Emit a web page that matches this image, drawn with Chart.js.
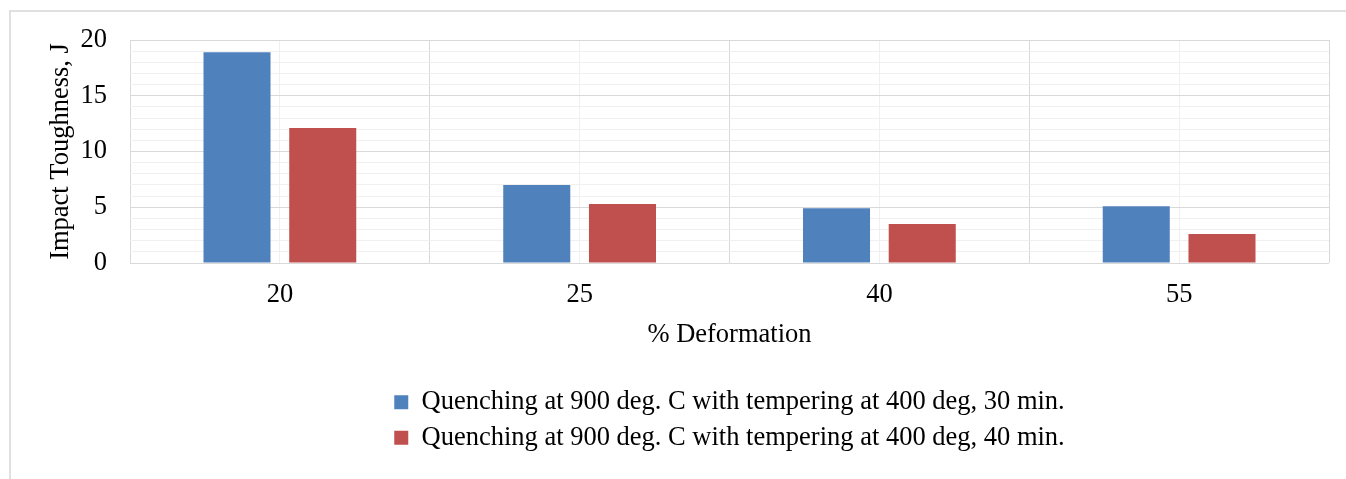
<!DOCTYPE html>
<html>
<head>
<meta charset="utf-8">
<title>Impact toughness vs deformation</title>
<script src="https://cdn.jsdelivr.net/npm/chart.js@4.4.1/dist/chart.umd.min.js"></script>
<style>
  html, body { margin: 0; padding: 0; background: #fff; overflow: hidden; }
  #frame {
    position: absolute; left: 9px; top: 10px; width: 1400px; height: 500px;
    border-left: 2px solid #e0e0e0; border-top: 2px solid #e0e0e0;
  }
  #myChart { position: absolute; left: 0; top: 0; }
</style>
</head>
<body>
<div id="frame"></div>
<canvas id="myChart" width="1346" height="479"></canvas>
<script>
// data
const deformation = ['20', '25', '40', '55'];
const temper30 = [18.9, 7.0, 4.9, 5.1];
const temper40 = [12.1, 5.3, 3.5, 2.6];
const seriesNames = [
  'Quenching at 900 deg. C with tempering at 400 deg, 30 min.',
  'Quenching at 900 deg. C with tempering at 400 deg, 40 min.'
];
const yLabelTicks = [0, 5, 10, 15, 20];

const blue = '#4F81BD';
const red = '#C0504D';
const majorGrid = '#d9d9d9';
const minorGrid = '#f0f0f0';

Chart.defaults.font.family = '"Liberation Serif", "Times New Roman", serif';
Chart.defaults.font.size = 26.5;
Chart.defaults.color = '#000';

const chartElement = document.getElementById('myChart');

const chart = new Chart(chartElement, {
  type: 'bar',
  data: {
    labels: deformation,
    datasets: [
      {
        label: seriesNames[0],
        data: temper30,
        backgroundColor: blue,
        categoryPercentage: 0.572,
        barPercentage: 0.782
      },
      {
        label: seriesNames[1],
        data: temper40,
        backgroundColor: red,
        categoryPercentage: 0.572,
        barPercentage: 0.782
      }
    ]
  },
  options: {
    responsive: false,
    animation: false,
    devicePixelRatio: 1,
    layout: {
      padding: { left: 45, right: 17, top: 40, bottom: 18 }
    },
    plugins: {
      tooltip: { enabled: false },
      legend: {
        position: 'bottom',
        fullSize: false,
        labels: {
          boxWidth: 14,
          boxHeight: 14,
          padding: 9,
          color: '#000'
        }
      }
    },
    scales: {
      x: {
        grid: { color: majorGrid, drawTicks: false, offset: true },
        border: { display: false },
        ticks: { padding: 16 },
        title: {
          display: true,
          text: '% Deformation',
          padding: { top: 0, bottom: 29 }
        },
        afterFit: (scale) => { scale.height = 117; }
      },
      // only here to draw the faint lines through the category centres
      xc: {
        type: 'category',
        position: 'bottom',
        offset: true,
        grid: { color: minorGrid, drawTicks: false, offset: false },
        border: { display: false },
        ticks: { display: false }
      },
      y: {
        min: 0,
        max: 20,
        grid: {
          drawTicks: false,
          color: (ctx) => (ctx.tick && ctx.tick.value % 5 === 0 ? majorGrid : minorGrid)
        },
        border: { display: false },
        ticks: {
          stepSize: 1,
          maxTicksLimit: 21,
          autoSkip: false,
          padding: 23,
          callback: (value) => (yLabelTicks.indexOf(value) !== -1 ? value : '')
        },
        title: {
          display: true,
          text: 'Impact Toughness, J',
          padding: { top: 0, bottom: 0 }
        },
        afterFit: (scale) => { scale.width = 130 - 45; }
      }
    }
  }
});
</script>
</body>
</html>
